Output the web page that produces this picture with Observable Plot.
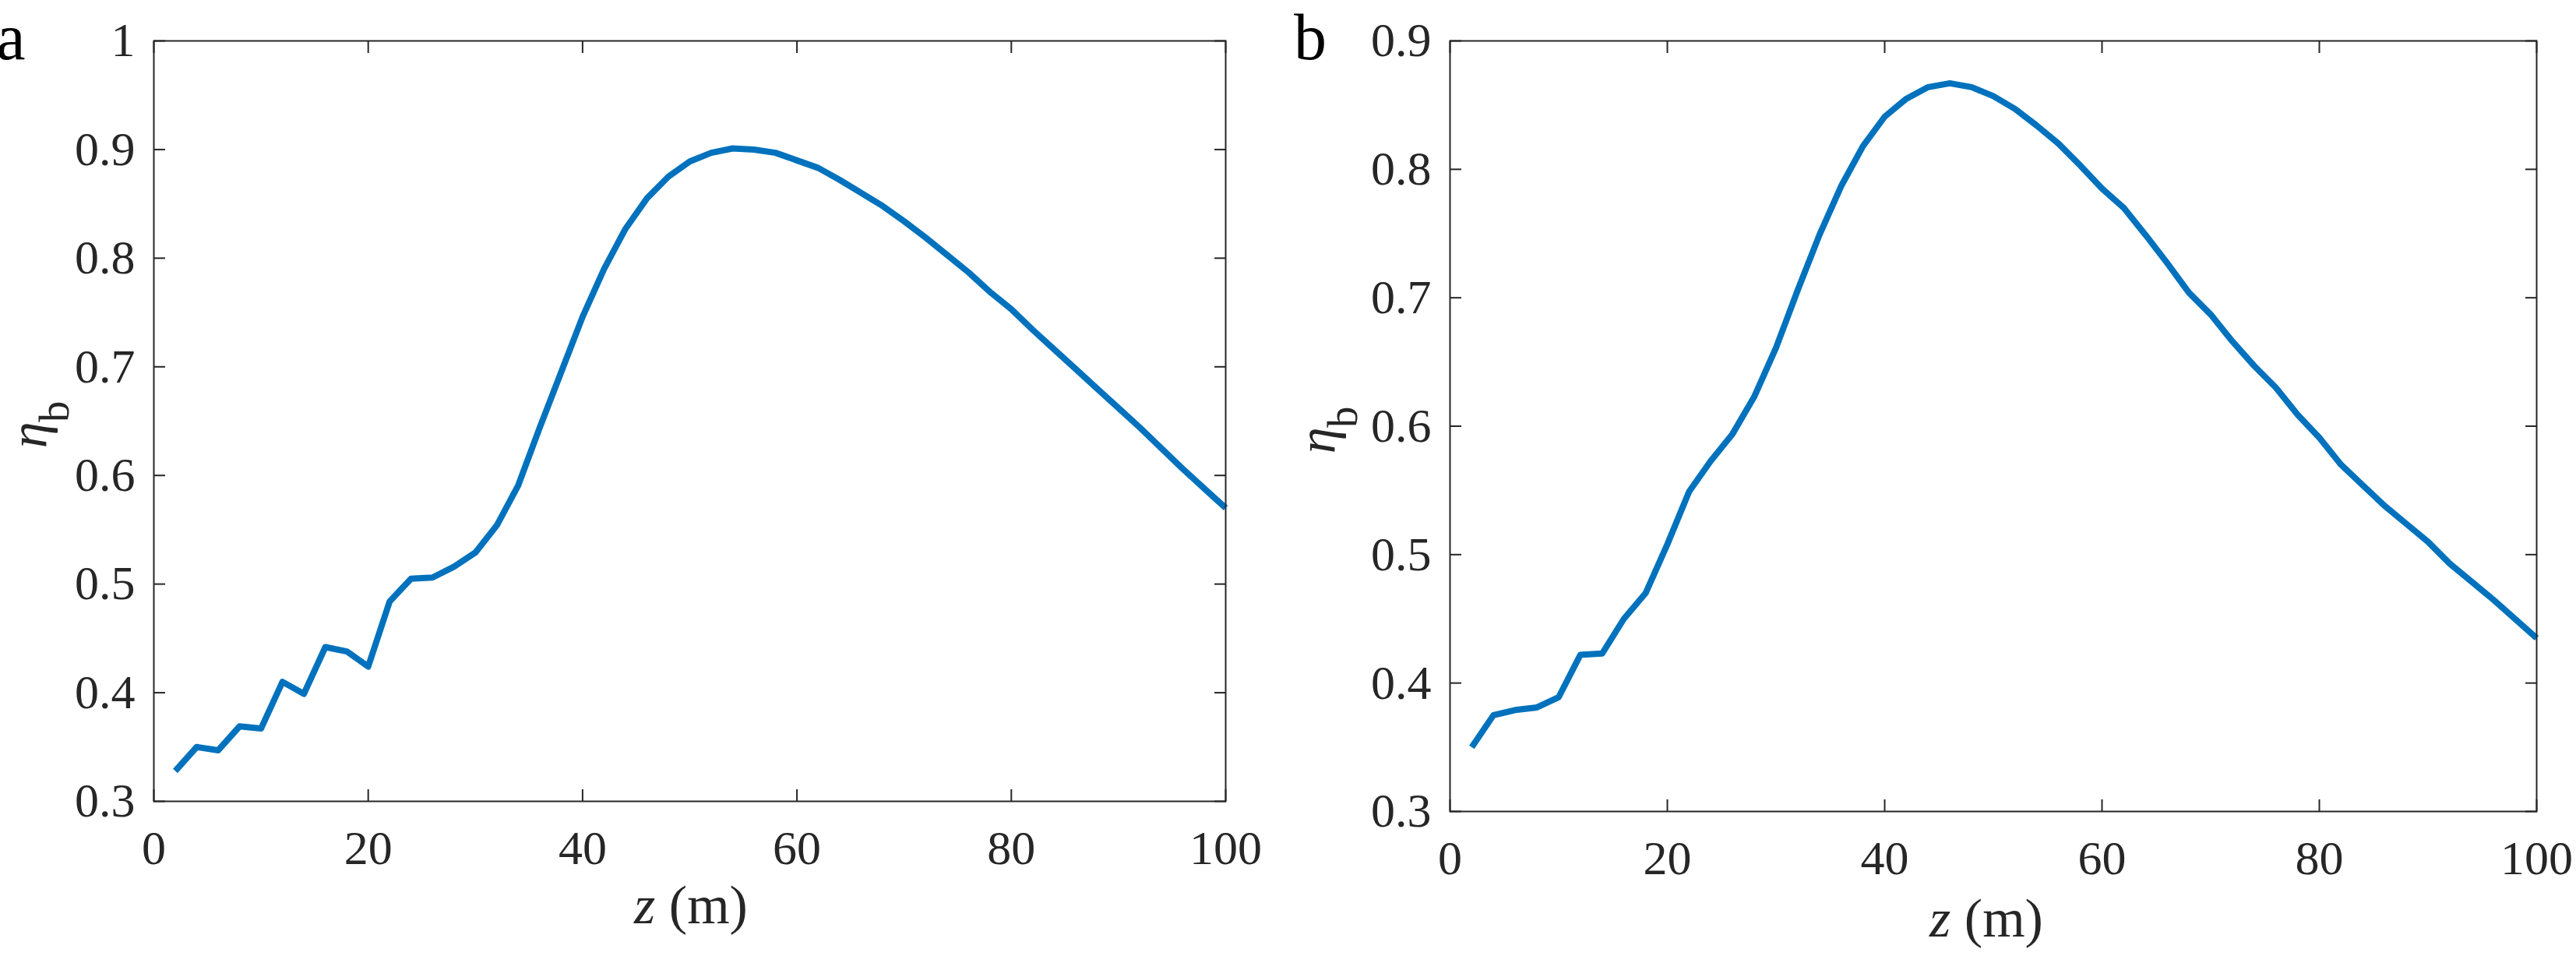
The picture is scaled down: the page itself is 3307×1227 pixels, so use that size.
<!DOCTYPE html>
<html>
<head>
<meta charset="utf-8">
<script src="https://cdn.jsdelivr.net/npm/d3@7"></script>
<script src="https://cdn.jsdelivr.net/npm/@observablehq/plot@0.6"></script>
<style>
  html, body { margin: 0; padding: 0; background: #ffffff; overflow: hidden; }
  #wrap { position: relative; width: 3307px; height: 1227px; background: #fff; }
  .panel { position: absolute; top: 0; }
  svg text { font-family: "Liberation Serif", "Times New Roman", serif; }
</style>
</head>
<body>
<div id="wrap">
  <div class="panel" id="pa" style="left:0px"></div>
  <div class="panel" id="pb" style="left:1650px"></div>
</div>
<script>
// ---------- data ----------
const zValues = [2,4,6,8,10,12,14,16,18,20,22,24,26,28,30,32,34,36,38,40,42,44,46,48,50,
                 52,54,56,58,60,62,64,66,68,70,72,74,76,78,80,82,84,86,88,90,92,94,96,98,100];

const etaA = [0.328,0.350,0.347,0.369,0.367,0.410,0.399,0.442,0.438,0.424,
              0.484,0.505,0.506,0.516,0.529,0.554,0.591,0.644,0.695,0.746,
              0.790,0.827,0.855,0.875,0.889,0.897,0.901,0.900,0.897,0.890,
              0.883,0.872,0.860,0.848,0.834,0.819,0.803,0.787,0.769,0.753,
              0.734,0.716,0.698,0.680,0.662,0.644,0.625,0.606,0.588,0.570];

const etaB = [0.350,0.375,0.379,0.381,0.389,0.422,0.423,0.450,0.470,0.508,
              0.549,0.573,0.594,0.623,0.661,0.706,0.749,0.787,0.818,0.841,
              0.855,0.864,0.867,0.864,0.857,0.847,0.834,0.820,0.803,0.785,
              0.770,0.749,0.727,0.704,0.687,0.666,0.647,0.630,0.609,0.591,
              0.570,0.554,0.538,0.524,0.510,0.493,0.479,0.465,0.450,0.435];

const xTicks = [0,20,40,60,80,100];
const yTicksA = [0.3,0.4,0.5,0.6,0.7,0.8,0.9,1];
const yTicksB = [0.3,0.4,0.5,0.6,0.7,0.8,0.9];
const panelLetters = ["a","b"];
const xLabelVar = "z";
const xLabelUnit = "\u00a0(m)";
const yLabelMain = "η";
const yLabelSub = "b";

// ---------- drawing ----------
const ink = "#262626";
const lineColor = "#0072BD";

function panel(el, cfg) {
  const rows = zValues.map((z, i) => ({z, eta: cfg.eta[i]}));
  const svg = Plot.plot({
    width: cfg.width, height: 1227,
    marginLeft: cfg.ml, marginRight: cfg.mr, marginTop: cfg.mt, marginBottom: cfg.mb,
    style: {fontFamily: "Liberation Serif", fontSize: "62px", color: ink, background: "white", overflow: "visible"},
    x: {domain: [0, 100]},
    y: {domain: cfg.ydomain},
    marks: [
      Plot.line(rows, {x: "z", y: "eta", stroke: lineColor, strokeWidth: 8, strokeLinejoin: "round", strokeLinecap: "butt"}),
      // inward ticks on all four sides
      Plot.axisX(xTicks, {anchor: "bottom", tickSize: -15, tickFormat: () => "", label: null, strokeWidth: 2}),
      Plot.axisX(xTicks, {anchor: "top", tickSize: -15, tickFormat: () => "", label: null, strokeWidth: 2}),
      Plot.axisY(cfg.yticks, {anchor: "left", tickSize: -15, tickFormat: () => "", label: null, strokeWidth: 2}),
      Plot.axisY(cfg.yticks, {anchor: "right", tickSize: -15, tickFormat: () => "", label: null, strokeWidth: 2}),
      // tick labels
      Plot.axisX(xTicks, {anchor: "bottom", tickSize: 0, tickPadding: 36, tickFormat: d => String(d), label: null, fontSize: 62}),
      Plot.axisY(cfg.yticks, {anchor: "left", tickSize: 0, tickPadding: 24, tickFormat: d => String(d), label: null, fontSize: 62}),
      Plot.frame({stroke: ink, strokeWidth: 2})
    ]
  });
  const s = d3.select(svg);
  // panel letter
  s.append("text").attr("x", cfg.letterX).attr("y", 76).attr("font-size", 84)
    .attr("fill", "#000").text(cfg.letter);
  // x label
  const xl = s.append("text").attr("x", cfg.xlabX).attr("y", cfg.xlabY)
    .attr("text-anchor", "middle").attr("font-size", 70).attr("fill", ink);
  xl.append("tspan").attr("font-style", "italic").text(xLabelVar);
  xl.append("tspan").text(xLabelUnit);
  // y label
  const yl = s.append("text").attr("transform", `translate(${cfg.ylabX},${cfg.ylabY}) rotate(-90)`)
    .attr("text-anchor", "middle").attr("font-size", 68).attr("fill", ink);
  yl.append("tspan").attr("font-style", "italic").text(yLabelMain);
  yl.append("tspan").attr("font-size", 54).attr("dy", 28).text(yLabelSub);
  el.appendChild(svg);
}

panel(document.getElementById("pa"), {
  width: 1650, ml: 197, mr: 77, mt: 52, mb: 199,
  ydomain: [0.3, 1], yticks: yTicksA, eta: etaA,
  letter: panelLetters[0], letterX: 14,
  xlabX: 887, xlabY: 1185, ylabX: 60, ylabY: 545
});
panel(document.getElementById("pb"), {
  width: 1657, ml: 211, mr: 51, mt: 52, mb: 186,
  ydomain: [0.3, 0.9], yticks: yTicksB, eta: etaB,
  letter: panelLetters[1], letterX: 32,
  xlabX: 900, xlabY: 1202, ylabX: 64, ylabY: 552
});
</script>
</body>
</html>
